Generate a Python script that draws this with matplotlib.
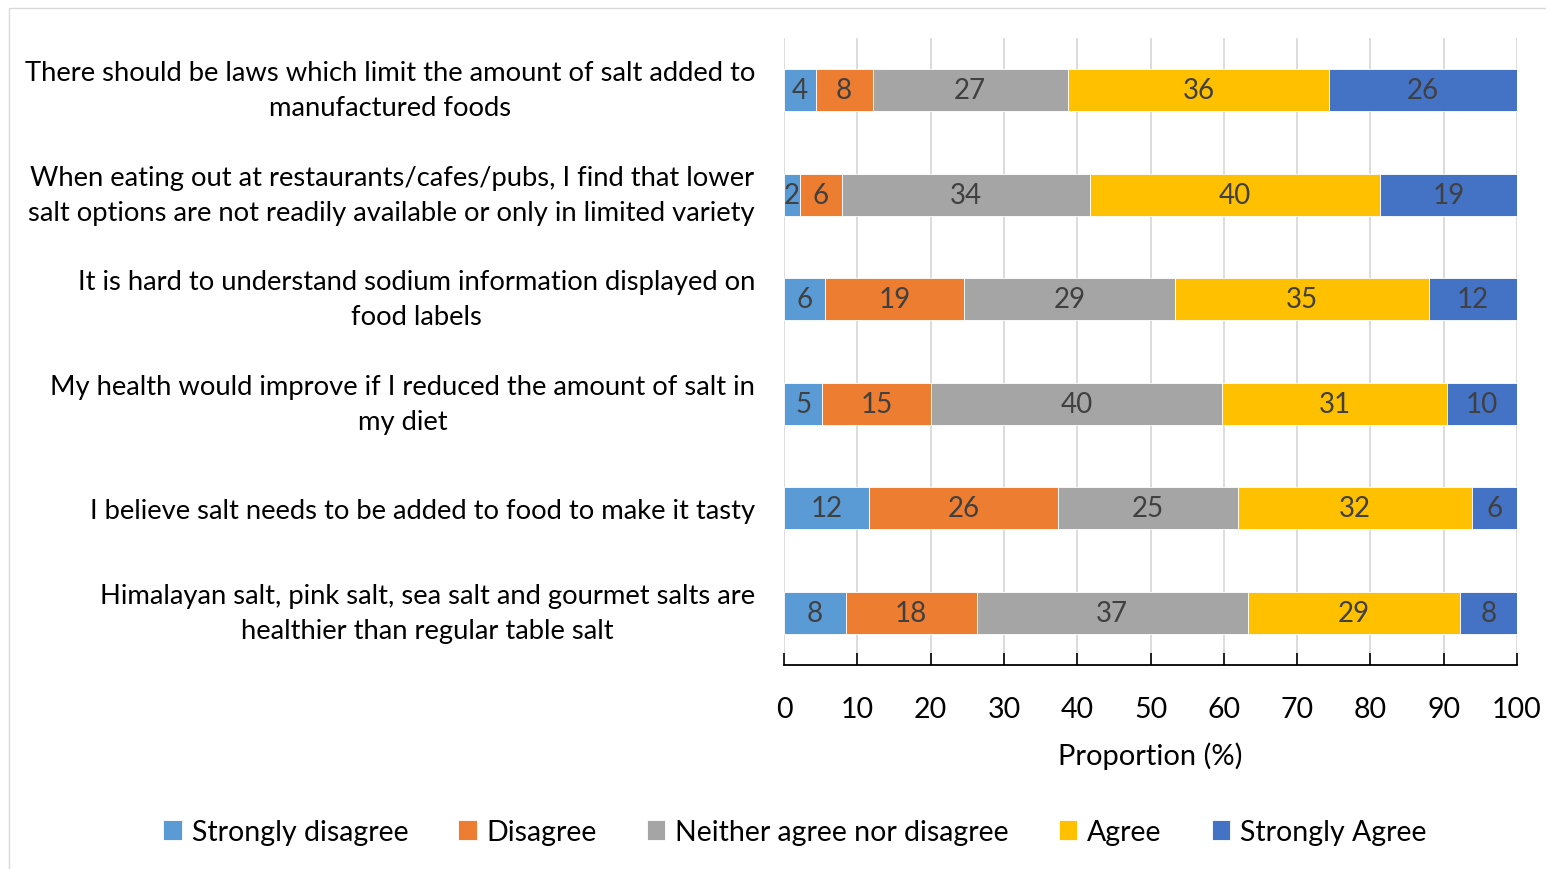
import matplotlib
matplotlib.use("Agg")
import matplotlib.pyplot as plt
from matplotlib.patches import Rectangle
from matplotlib.transforms import blended_transform_factory, ScaledTranslation
import numpy as np

plt.rcParams['font.family'] = ['Lato', 'DejaVu Sans']

statements = [
    "There should be laws which limit the amount of salt added to\nmanufactured foods",
    "When eating out at restaurants/cafes/pubs, I find that lower\nsalt options are not readily available or only in limited variety",
    "It is hard to understand sodium information displayed on\nfood labels",
    "My health would improve if I reduced the amount of salt in\nmy diet",
    "I believe salt needs to be added to food to make it tasty",
    "Himalayan salt, pink salt, sea salt and gourmet salts are\nhealthier than regular table salt",
]

responses = ["Strongly disagree", "Disagree", "Neither agree nor disagree",
             "Agree", "Strongly Agree"]

strongly_disagree = [4.3, 2.2, 5.6, 5.2, 11.6, 8.4]
disagree = [7.8, 5.7, 19.0, 14.9, 25.8, 17.9]
neither = [26.6, 33.8, 28.8, 39.7, 24.6, 37.0]
agree = [35.7, 39.6, 34.6, 30.6, 31.8, 28.9]
strongly_agree = [25.6, 18.7, 12.0, 9.6, 6.2, 7.8]

series = [strongly_disagree, disagree, neither, agree, strongly_agree]
colors = ["#5B9BD5", "#ED7D31", "#A5A5A5", "#FFC000", "#4472C4"]

xticks = list(range(0, 101, 10))

W, H = 1546, 870
DPI = 100
fig = plt.figure(figsize=(W / DPI, H / DPI), dpi=DPI)

# light frame around the chart area
fig.patches.append(Rectangle((9 / W, -0.05), 1.2, 1 - 9 / H + 0.05,
                             transform=fig.transFigure, fill=False,
                             edgecolor="#d9d9d9", linewidth=1.0))

ax = fig.add_axes([784 / W, 1 - 666 / H, (1517 - 784) / W, (666 - 39) / H])

y = np.arange(len(statements))
left = np.zeros(len(statements))
handles = []
for vals, col, name in zip(series, colors, responses):
    vals = np.array(vals)
    bars = ax.barh(y, vals, left=left, height=0.4, color=col,
                   edgecolor="white", linewidth=0.6, label=name, zorder=3)
    handles.append(bars)
    for yi, l, v in zip(y, left, vals):
        ax.text(l + v / 2, yi, f"{v:.0f}", ha="center", va="center",
                fontsize=20, color="#404040", zorder=4)
    left = left + vals

ax.set_ylim(len(statements) - 0.5, -0.5)
ax.set_xlim(0, 100)
ax.set_xticks(xticks)
ax.set_xticklabels([str(t) for t in xticks], fontsize=20.5)
ax.set_yticks(y)
ax.set_yticklabels([])
ax.tick_params(axis="y", length=0)
ax.tick_params(axis="x", direction="in", length=9, width=1.2, pad=22,
               color="black")

# statement labels, right-aligned to the left of the bars
label_base = blended_transform_factory(ax.transAxes, ax.transData)
for yi, txt in zip(y, statements):
    lift = 0.0 if "\n" in txt else -2.0
    tr = label_base + ScaledTranslation(-29 / DPI, lift / DPI,
                                        fig.dpi_scale_trans)
    ax.text(0, yi, txt, transform=tr, ha="right", va="center",
            multialignment="center", linespacing=1.5, fontsize=19.7,
            color="black")

ax.grid(axis="x", color="#d9d9d9", linewidth=1.3, zorder=0)
ax.set_axisbelow(True)
for s in ["top", "right", "left"]:
    ax.spines[s].set_visible(False)
ax.spines["bottom"].set_color("black")
ax.spines["bottom"].set_linewidth(1.3)
ax.spines["bottom"].set_zorder(5)

ax.set_xlabel("Proportion (%)", fontsize=21, labelpad=14)

fig.legend(handles=handles, labels=responses, loc="center",
           bbox_to_anchor=(795 / W, 1 - 833 / H), ncol=5, frameon=False,
           fontsize=20.5, handlelength=0.65, handleheight=0.65,
           handletextpad=0.35, columnspacing=1.75)

fig.savefig("out.png", dpi=DPI, facecolor="white")
